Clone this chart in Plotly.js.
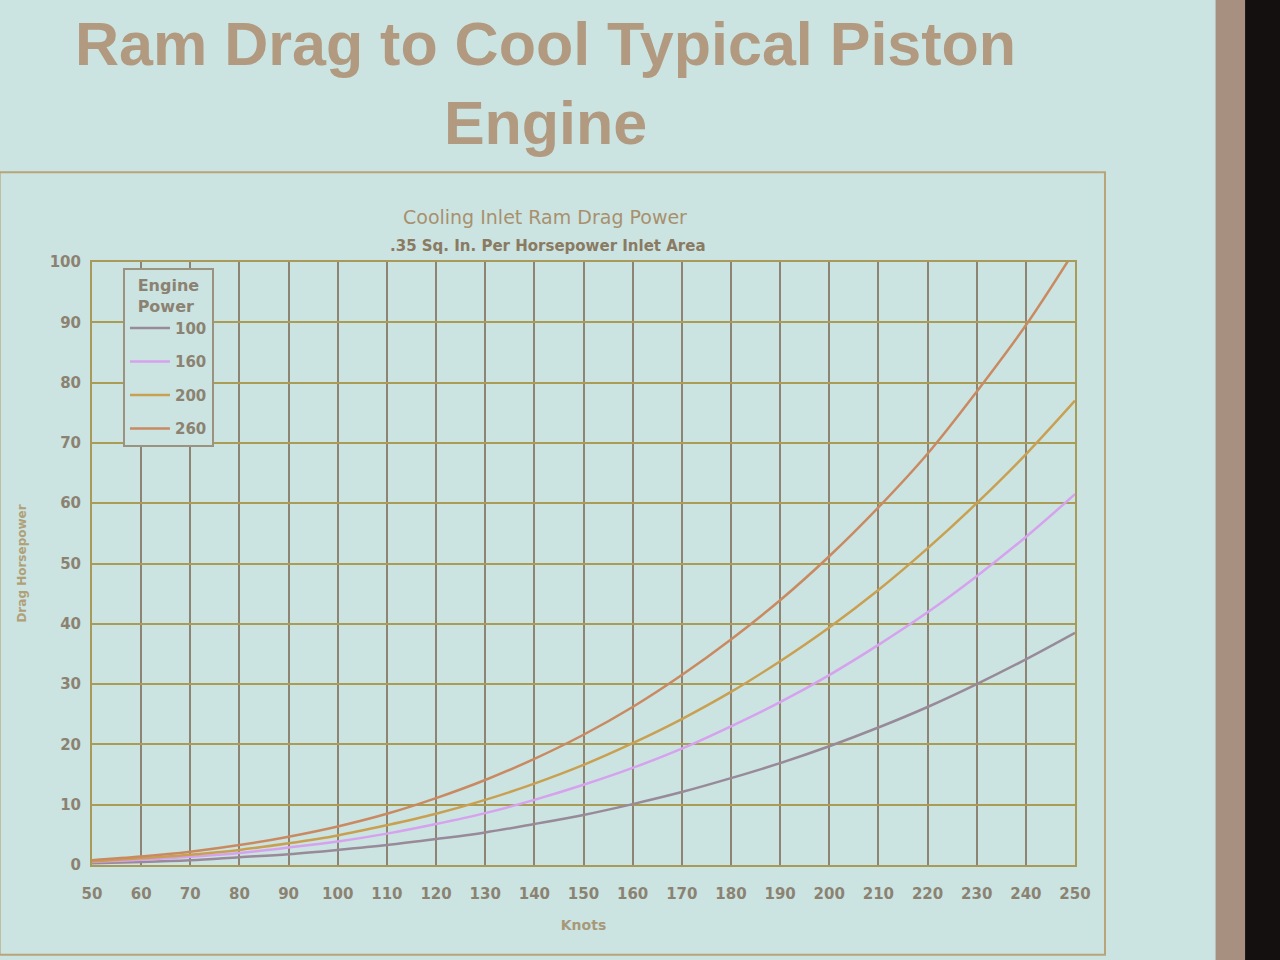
<!DOCTYPE html>
<html>
<head>
<meta charset="utf-8">
<script src="https://cdn.plot.ly/plotly-3.0.1.min.js"></script>
<style>html,body{margin:0;padding:0;background:#c9e3df;}#chart{width:1280px;height:960px;}</style>
</head>
<body>
<div id="chart"></div>
<script>
// Knots (x-axis)
const knots = [50,60,70,80,90,100,110,120,130,140,150,160,170,180,190,200,210,220,230,240,250];
// Drag horsepower, one array per engine power
const hp100 = [0.3,0.5,0.8,1.3,1.8,2.5,3.3,4.3,5.4,6.8,8.3,10.1,12.1,14.4,16.9,19.7,22.8,26.2,30.0,34.1,38.5];
const hp160 = [0.5,0.85,1.35,2.0,2.9,3.9,5.2,6.8,8.6,10.8,13.3,16.1,19.3,23.0,27.0,31.5,36.5,41.9,47.9,54.4,61.5];
const hp200 = [0.6,1.1,1.7,2.5,3.6,4.9,6.6,8.5,10.8,13.5,16.6,20.2,24.2,28.7,33.8,39.4,45.6,52.5,60.0,68.1,77.0];
const hp260 = [0.8,1.4,2.2,3.3,4.7,6.4,8.5,11.1,14.1,17.6,21.6,26.2,31.5,37.4,43.9,51.2,59.3,68.2,78.5,89.5,102.0];
const seriesNames = ["100","160","200","260"];
const xTicks = [50,60,70,80,90,100,110,120,130,140,150,160,170,180,190,200,210,220,230,240,250];
const yTicks = [0,10,20,30,40,50,60,70,80,90,100];

const colors = ["#988a98","#d6a2ee","#c9a052","#c98a62"];
const ys = [hp100,hp160,hp200,hp260];
const traces = ys.map((y,i)=>({
  x: knots, y: y, name: seriesNames[i], legendgroup:'g'+i, type:'scatter', mode:'lines',
  line:{color:colors[i], width:2.5, shape:'spline'}
}));

const bg = "#cbe4e1";
const tickCol = "#8c8272";
const wide = "DejaVu Sans, Verdana, sans-serif";
const arial = "Liberation Sans, Arial, sans-serif";
const layout = {
  width:1280, height:960,
  paper_bgcolor:bg, plot_bgcolor:bg,
  margin:{l:92, r:205, t:262, b:95},
  showlegend:true,
  font:{family:arial, color:tickCol},
  xaxis:{
    range:[50,250], tickvals:xTicks, ticktext:xTicks.map(String),
    showgrid:true, gridcolor:"#8e8474", gridwidth:2,
    showline:true, linecolor:"#a89a58", linewidth:2, mirror:true,
    zeroline:false, ticks:'', ticklen:0, ticklabelstandoff:14,
    tickfont:{family:wide, size:15, color:tickCol, weight:'bold'},
    title:{text:"Knots", font:{family:wide, size:14, color:"#a8987a", weight:'bold'}, standoff:18}
  },
  yaxis:{
    range:[0,100], tickvals:yTicks, ticktext:yTicks.map(String),
    showgrid:true, gridcolor:"#aa9c55", gridwidth:2,
    showline:true, linecolor:"#a89a58", linewidth:2, mirror:true,
    zeroline:false, ticks:'', ticklen:0, ticklabelstandoff:6,
    tickfont:{family:wide, size:15, color:tickCol, weight:'bold'},
    title:{text:"Drag Horsepower", font:{family:wide, size:12, color:"#b0a078", weight:'bold'}, standoff:20}
  },
  legend:{
    x:0.0315, y:0.99, xanchor:'left', yanchor:'top',
    bgcolor:bg, bordercolor:"#9c9280", borderwidth:2,
    traceorder:'grouped', tracegroupgap:11,
    title:{text:"Engine<br>Power", side:'top center', font:{family:wide, size:16, color:tickCol, weight:'bold'}},
    font:{family:wide, size:15, color:tickCol, weight:'bold'},
    itemwidth:40
  },
  annotations:[
    {text:"Ram Drag to Cool Typical Piston<br>Engine", xref:'paper', yref:'paper', x:0.461, y:1.296, xanchor:'center', yanchor:'middle', showarrow:false,
     font:{family:arial, size:61, color:"#b29a80", weight:'bold'}},
    {text:"Cooling Inlet Ram Drag Power", xref:'paper', yref:'paper', x:0.461, y:1.075, xanchor:'center', yanchor:'middle', showarrow:false,
     font:{family:wide, size:19, color:"#a8906e"}},
    {text:".35 Sq. In. Per Horsepower Inlet Area", xref:'paper', yref:'paper', x:0.464, y:1.027, xanchor:'center', yanchor:'middle', showarrow:false,
     font:{family:wide, size:15, color:"#8a7a62", weight:'bold'}}
  ],
  shapes:[
    {type:'rect', xref:'paper', yref:'paper', x0:-0.094, x1:1.0305, y0:-0.149, y1:1.149, line:{color:"#b8a478", width:2}, layer:'below'},
    {type:'rect', xref:'paper', yref:'paper', x0:1.143, x1:1.173, y0:-0.25, y1:1.5, line:{width:0}, fillcolor:"#a89080", layer:'below'},
    {type:'rect', xref:'paper', yref:'paper', x0:1.173, x1:1.23, y0:-0.25, y1:1.5, line:{width:0}, fillcolor:"#141010", layer:'below'}
  ]
};
Plotly.newPlot('chart', traces, layout, {displayModeBar:false, responsive:false});
</script>
</body>
</html>
